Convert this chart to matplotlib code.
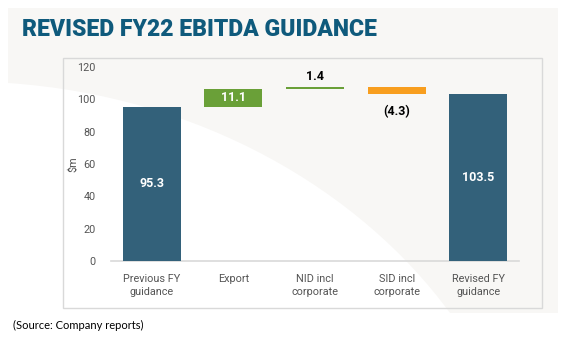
import numpy as np
import matplotlib
matplotlib.use('Agg')
import matplotlib.pyplot as plt
from matplotlib.patches import Rectangle, PathPatch
from matplotlib.path import Path

# Data
categories = ['Previous FY\nguidance', 'Export', 'NID incl\ncorporate', 'SID incl\ncorporate', 'Revised FY\nguidance']
values = [95.3, 11.1, 1.4, -4.3, 103.5]
is_total = [True, False, False, False, True]
value_labels = ['95.3', '11.1', '1.4', '(4.3)', '103.5']
yticks = [0, 20, 40, 60, 80, 100, 120]

BLUE = '#33617a'
GREEN = '#6aa038'
ORANGE = '#f89e1e'
TITLE = '#0f5a7c'
GREY_TXT = '#555555'

W, H = 568, 340
fig = plt.figure(figsize=(W / 100, H / 100), dpi=100)
fig.patch.set_facecolor('white')


def px(x, y):
    # pixel coords (top-left origin) -> figure fraction
    return x / W, 1 - y / H


# background panel
x0, y0 = px(8, 313)
fig.patches.append(Rectangle((x0, y0), 550 / W, 305 / H, transform=fig.transFigure,
                             facecolor='#f8f7f5', edgecolor='none', zorder=0))
# white swoosh
verts = [px(8, 83), px(200, 96), px(360, 190), px(450, 313), px(8, 313), px(8, 83)]
codes = [Path.MOVETO, Path.CURVE4, Path.CURVE4, Path.CURVE4, Path.LINETO, Path.CLOSEPOLY]
fig.patches.append(PathPatch(Path(verts, codes), transform=fig.transFigure,
                             facecolor='white', edgecolor='none', zorder=0.5))
# inner box
bx, by = px(63, 308)
fig.patches.append(Rectangle((bx, by), 479 / W, 250 / H, transform=fig.transFigure,
                             facecolor='none', edgecolor='#d9d9d9', linewidth=1, zorder=1))

fig.text(22 / W, 1 - 30 / H, 'REVISED FY22 EBITDA GUIDANCE', family=['Roboto', 'DejaVu Sans'],
         fontweight='heavy', fontsize=16.6, color=TITLE, va='center', ha='left')
fig.text(13 / W, 1 - 325 / H, '(Source: Company reports)', family=['Lato', 'DejaVu Sans'],
         fontsize=8, color='black', va='center', ha='left')

ax = fig.add_axes([111 / W, 1 - 261 / H, 408 / W, 194 / H])
ax.set_zorder(2)
ax.patch.set_alpha(0)

# waterfall bottoms
bottoms = []
heights = []
colors = []
running = 0
for v, tot in zip(values, is_total):
    if tot:
        bottoms.append(0)
        heights.append(v)
        colors.append(BLUE)
        running = v
    else:
        lo = min(running, running + v)
        bottoms.append(lo)
        heights.append(abs(v))
        colors.append(GREEN if v > 0 else ORANGE)
        running += v

x = np.arange(len(categories))
ax.bar(x, heights, bottom=bottoms, width=0.71, color=colors, zorder=3)

for i, (b, h, lab) in enumerate(zip(bottoms, heights, value_labels)):
    if is_total[i] or h > 5:
        ax.text(i, b + h / 2, lab, ha='center', va='center', color='white',
                fontweight='bold', fontsize=9, family=['Roboto', 'DejaVu Sans'], zorder=4)
    elif values[i] > 0:
        ax.text(i, b + h + 2.5, lab, ha='center', va='bottom', color='black',
                fontweight='bold', fontsize=9, family=['Roboto', 'DejaVu Sans'], zorder=4)
    else:
        ax.text(i, b - 7, lab, ha='center', va='top', color='black',
                fontweight='bold', fontsize=9, family=['Roboto', 'DejaVu Sans'], zorder=4)

ax.set_xlim(-0.5, len(categories) - 0.5)
ax.set_ylim(0, 120)
ax.set_yticks(yticks)
ax.set_xticks(x)
ax.set_xticklabels(categories, fontsize=7.8, color=GREY_TXT, family=['Roboto', 'DejaVu Sans'],
                   linespacing=1.45)
for t in ax.get_yticklabels():
    t.set_fontsize(7.8)
    t.set_color(GREY_TXT)
    t.set_family(['Roboto', 'DejaVu Sans'])
ax.tick_params(axis='both', length=0)
ax.tick_params(axis='y', pad=11)
ax.tick_params(axis='x', pad=9)
for s in ['top', 'right', 'left']:
    ax.spines[s].set_visible(False)
ax.spines['bottom'].set_color('#d9d9d9')
ax.spines['bottom'].set_linewidth(1.2)
ax.set_ylabel('$m', fontsize=7.8, color=GREY_TXT, family=['Roboto', 'DejaVu Sans'], labelpad=-1)

fig.savefig('out.png', dpi=100)
